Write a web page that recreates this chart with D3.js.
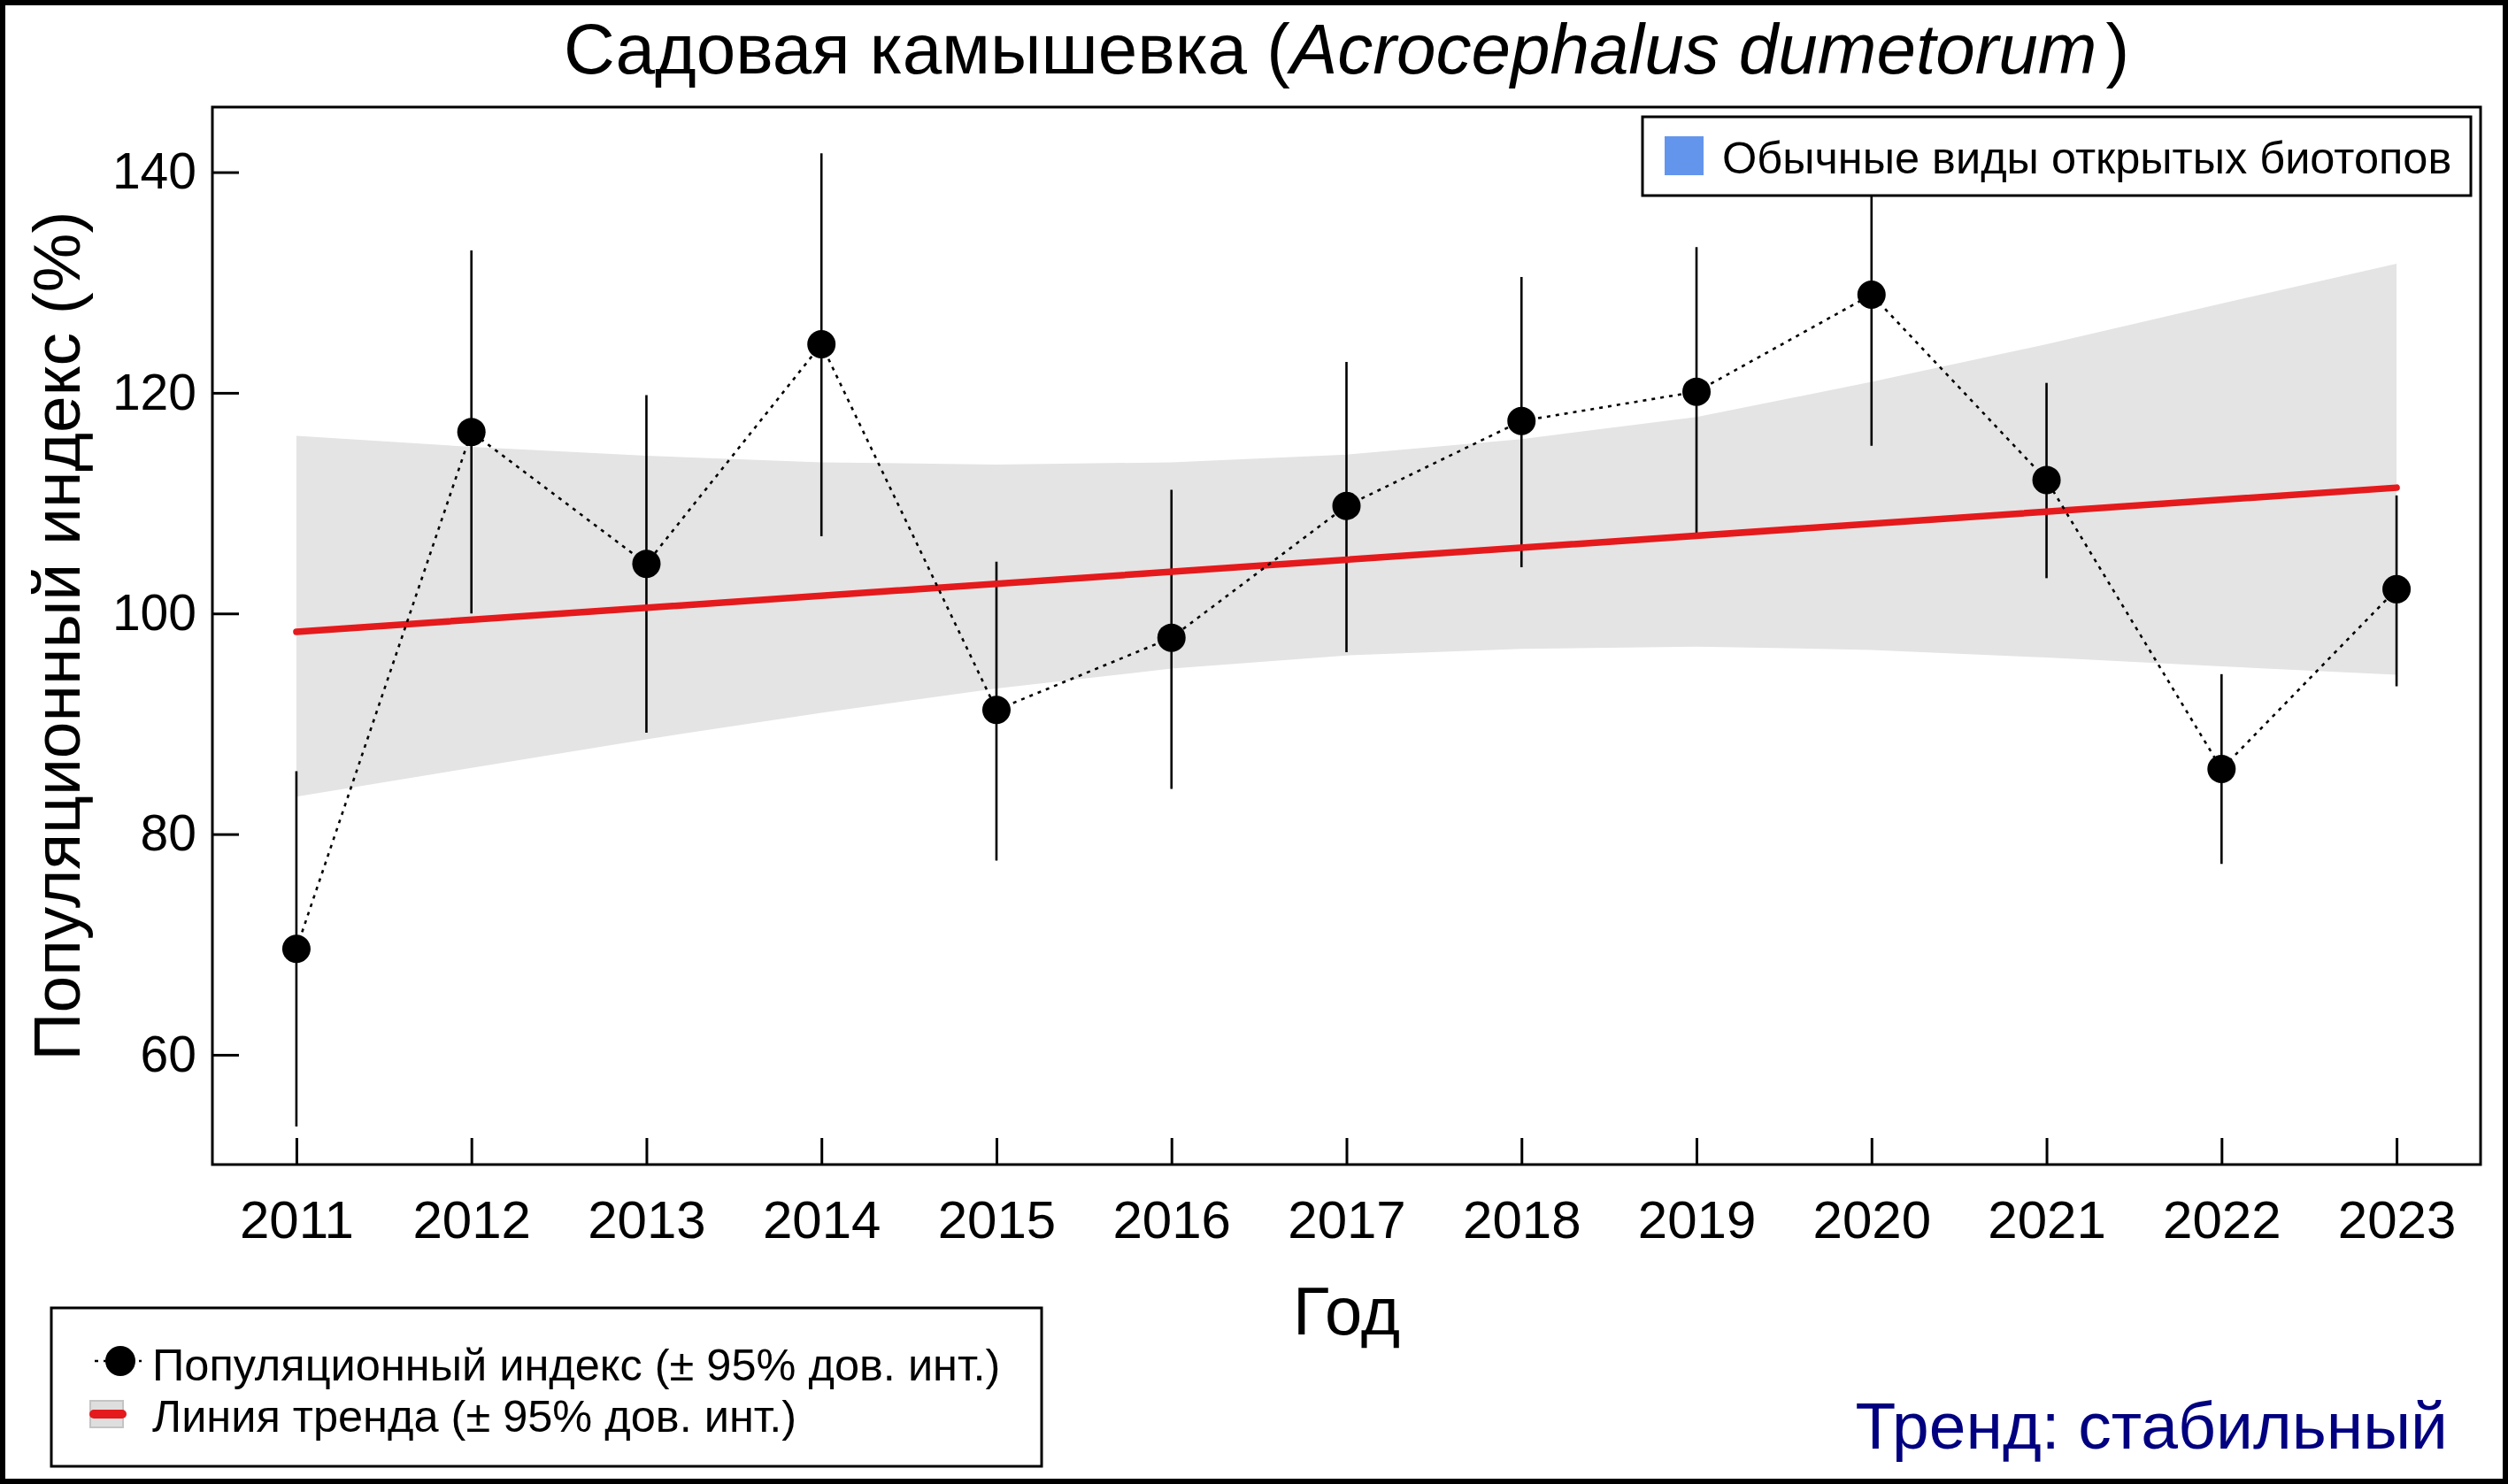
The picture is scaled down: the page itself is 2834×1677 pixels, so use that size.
<!DOCTYPE html>
<html>
<head>
<meta charset="utf-8">
<script src="https://cdn.jsdelivr.net/npm/d3@7"></script>
<style>
  html, body { margin: 0; padding: 0; background: #fff; }
  svg { display: block; font-family: "Liberation Sans", Arial, sans-serif; }
</style>
</head>
<body>
<svg id="chart" width="2834" height="1677"></svg>
<script>
// ---- Data ----
const years = [2011, 2012, 2013, 2014, 2015, 2016, 2017, 2018, 2019, 2020, 2021, 2022, 2023];
const indexValues = [69.6, 116.45, 104.5, 124.4, 91.26, 97.8, 109.75, 117.45, 120.1, 128.9, 112.1, 85.9, 102.2];
const ciLower = [53.5, 100.0, 89.2, 107.0, 77.6, 84.1, 96.5, 104.2, 106.8, 115.2, 103.2, 77.3, 93.4];
const ciUpper = [85.7, 132.9, 119.8, 141.7, 104.7, 111.2, 122.8, 130.5, 133.2, 142.3, 120.9, 94.5, 110.7];
const trendYears = [2011, 2023];
const trendValues = [98.34, 111.4];
const bandUpper = [116.1, 115.1, 114.3, 113.7, 113.5, 113.7, 114.4, 115.8, 117.8, 121.0, 124.4, 128.1, 131.7];
const bandLower = [83.4, 86.0, 88.6, 91.0, 93.2, 95.0, 96.2, 96.8, 97.0, 96.7, 96.0, 95.2, 94.45];
const yTicks = [60, 80, 100, 120, 140];

const titleMain = "Садовая камышевка (";
const titleItalic = "Acrocephalus dumetorum";
const titleEnd = ")";
const yLabel = "Популяционный индекс (%)";
const xLabel = "Год";
const groupLegend = "Обычные виды открытых биотопов";
const legendItems = ["Популяционный индекс (± 95% дов. инт.)", "Линия тренда (± 95% дов. инт.)"];
const trendText = "Тренд: стабильный";

// ---- Layout ----
const W = 2834, H = 1677;
const plot = { left: 240, right: 2803, top: 121, bottom: 1316 };
const svg = d3.select("#chart");

svg.append("rect").attr("x", 0).attr("y", 0).attr("width", W).attr("height", H).attr("fill", "#fff");

const x = d3.scaleLinear().domain([2010.52, 2023.48]).range([plot.left, plot.right]);
const y = d3.scaleLinear().domain([50.05, 145.9]).range([plot.bottom, plot.top]);

const g = svg.append("g");

// CI band
const bandData = years.map((yr, i) => ({ yr, lo: bandLower[i], hi: bandUpper[i] }));
g.append("path")
  .datum(bandData)
  .attr("fill", "#e4e4e4")
  .attr("d", d3.area().x(d => x(d.yr)).y0(d => y(d.lo)).y1(d => y(d.hi)));

// error bars
const pts = years.map((yr, i) => ({ yr, v: indexValues[i], lo: ciLower[i], hi: ciUpper[i] }));
g.selectAll("line.err").data(pts).enter().append("line")
  .attr("class", "err")
  .attr("x1", d => x(d.yr)).attr("x2", d => x(d.yr))
  .attr("y1", d => y(d.lo)).attr("y2", d => y(d.hi))
  .attr("stroke", "#000").attr("stroke-width", 2.6);

// trend line
g.append("path")
  .datum(trendYears.map((yr, i) => ({ yr, v: trendValues[i] })))
  .attr("fill", "none").attr("stroke", "#e41a1c").attr("stroke-width", 7.5)
  .attr("stroke-linecap", "round")
  .attr("d", d3.line().x(d => x(d.yr)).y(d => y(d.v)));

// dotted connecting line
g.append("path")
  .datum(pts)
  .attr("fill", "none").attr("stroke", "#000").attr("stroke-width", 2.6)
  .attr("stroke-dasharray", "4,6")
  .attr("d", d3.line().x(d => x(d.yr)).y(d => y(d.v)));

// points
g.selectAll("circle.pt").data(pts).enter().append("circle")
  .attr("class", "pt")
  .attr("cx", d => x(d.yr)).attr("cy", d => y(d.v)).attr("r", 16)
  .attr("fill", "#000");

// axes
const yAxis = d3.axisLeft(y).tickValues(yTicks).tickSize(-30).tickPadding(18);
const ya = svg.append("g").attr("transform", `translate(${plot.left},0)`).call(yAxis);
ya.select(".domain").remove();
ya.selectAll(".tick line").attr("stroke", "#000").attr("stroke-width", 3);
ya.selectAll(".tick text").attr("font-size", 57).attr("fill", "#000")
  .attr("font-family", "'Liberation Sans', Arial, sans-serif");

const xAxis = d3.axisBottom(x).tickValues(years).tickFormat(d3.format("d")).tickSize(-30).tickPadding(40);
const xa = svg.append("g").attr("transform", `translate(0,${plot.bottom})`).call(xAxis);
xa.select(".domain").remove();
xa.selectAll(".tick line").attr("stroke", "#000").attr("stroke-width", 3);
xa.selectAll(".tick text").attr("font-size", 60).attr("fill", "#000")
  .attr("font-family", "'Liberation Sans', Arial, sans-serif");

// top-right legend (covers data)
const lg = svg.append("g");
lg.append("rect").attr("x", 1856).attr("y", 132).attr("width", 936).attr("height", 89)
  .attr("fill", "#fff").attr("stroke", "#000").attr("stroke-width", 3);
lg.append("rect").attr("x", 1881).attr("y", 154).attr("width", 44).attr("height", 44).attr("fill", "#6495ed");
lg.append("text").attr("x", 1946).attr("y", 196).attr("font-size", 50.5).attr("fill", "#000").text(groupLegend);

// plot box
svg.append("rect").attr("x", plot.left).attr("y", plot.top)
  .attr("width", plot.right - plot.left).attr("height", plot.bottom - plot.top)
  .attr("fill", "none").attr("stroke", "#000").attr("stroke-width", 3);

// title
const tt = svg.append("text").attr("x", (plot.left + plot.right) / 2).attr("y", 83)
  .attr("text-anchor", "middle").attr("font-size", 80).attr("fill", "#000");
tt.append("tspan").text(titleMain);
tt.append("tspan").attr("font-style", "italic").text(titleItalic);
tt.append("tspan").attr("dx", 10).text(titleEnd);

// axis titles
svg.append("text").attr("transform", `translate(90,${(plot.top + plot.bottom) / 2}) rotate(-90)`)
  .attr("text-anchor", "middle").attr("font-size", 75).attr("fill", "#000").text(yLabel);
svg.append("text").attr("x", (plot.left + plot.right) / 2).attr("y", 1508)
  .attr("text-anchor", "middle").attr("font-size", 76).attr("fill", "#000").text(xLabel);

// bottom-left legend
const bl = svg.append("g");
bl.append("rect").attr("x", 58).attr("y", 1478).attr("width", 1119).attr("height", 179)
  .attr("fill", "#fff").attr("stroke", "#000").attr("stroke-width", 3);
bl.append("line").attr("x1", 107).attr("x2", 160).attr("y1", 1538).attr("y2", 1538)
  .attr("stroke", "#000").attr("stroke-width", 2.6).attr("stroke-dasharray", "4,6");
bl.append("circle").attr("cx", 136).attr("cy", 1538).attr("r", 17).attr("fill", "#000");
bl.append("rect").attr("x", 102).attr("y", 1583).attr("width", 37).attr("height", 30)
  .attr("fill", "#dedede").attr("stroke", "#c4c4c4").attr("stroke-width", 2);
bl.append("line").attr("x1", 106).attr("x2", 138).attr("y1", 1598).attr("y2", 1598)
  .attr("stroke", "#e41a1c").attr("stroke-width", 10).attr("stroke-linecap", "round");
bl.selectAll("text.li").data(legendItems).enter().append("text")
  .attr("class", "li").attr("x", 172).attr("y", (d, i) => 1560 + i * 58)
  .attr("font-size", 50.5).attr("fill", "#000").text(d => d);

// trend verdict
svg.append("text").attr("x", 2766).attr("y", 1637).attr("text-anchor", "end")
  .attr("font-size", 75).attr("fill", "#000080").text(trendText);

// outer border
svg.append("rect").attr("x", 0).attr("y", 0).attr("width", W).attr("height", H)
  .attr("fill", "none").attr("stroke", "#000").attr("stroke-width", 12);
</script>
</body>
</html>
